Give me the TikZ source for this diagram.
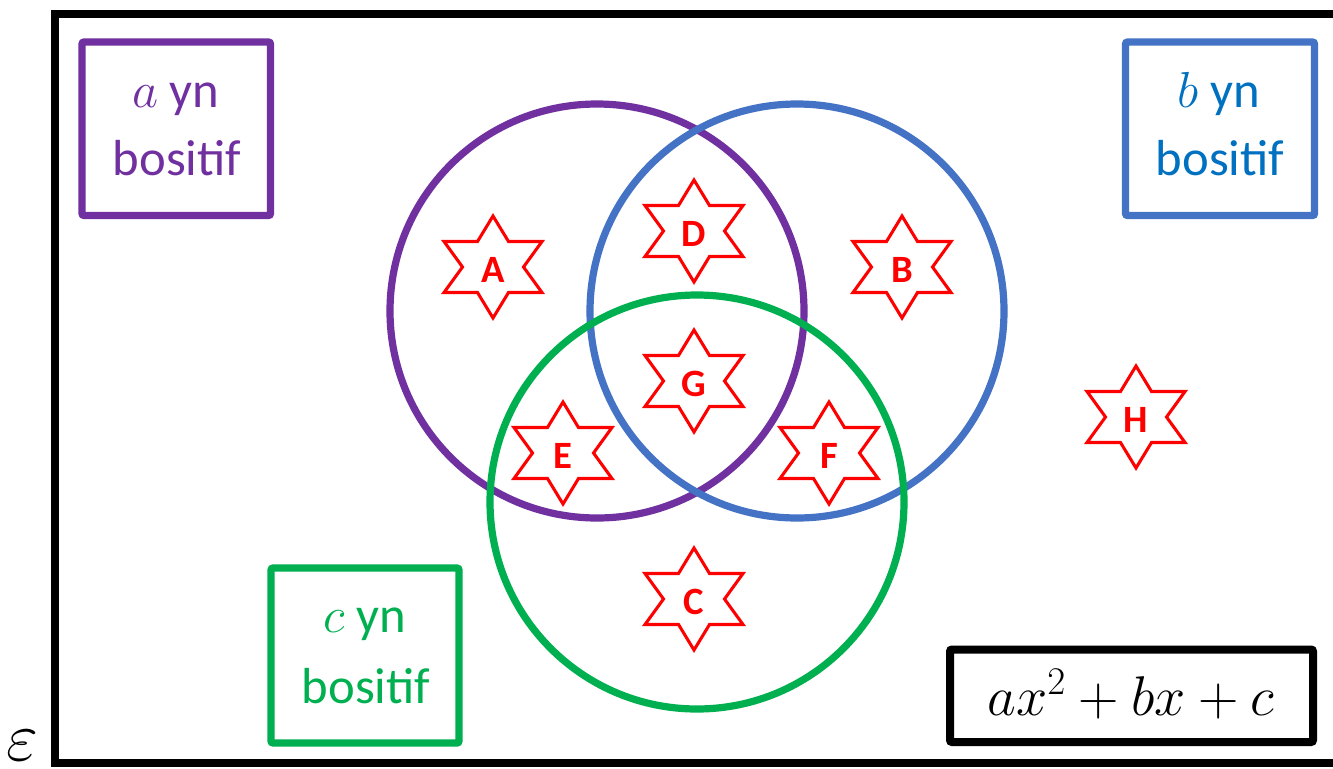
\RequirePackage{fix-cm}
\documentclass[tikz,border=0pt]{standalone}
\usepackage{fontspec}
\setmainfont{Carlito}
\definecolor{vpurple}{RGB}{112,48,160}
\definecolor{vblue}{RGB}{68,114,196}
\definecolor{vbluetxt}{RGB}{0,112,192}
\definecolor{vgreen}{RGB}{0,176,80}
\definecolor{vred}{RGB}{255,0,0}
\tikzset{
  frameline/.style={draw=black, line width=6pt},
  setcircle/.style={line width=5.4pt},
  labelbox/.style={line width=5.4pt, rounded corners=1.5pt},
  boxtext/.style={anchor=base, inner sep=0pt, font=\fontsize{38}{46}\selectfont},
  starline/.style={draw=vred, line width=2.3pt, line join=miter},
  starlbl/.style={inner sep=0pt, text=vred, font=\fontsize{29}{34}\selectfont\bfseries},
}
\newcommand\hexstar[4]{%
  \draw[starline, shift={(#2,#3)}] (0,-51) -- (15.5,-25.5) -- (49,-25.5) -- (30.5,0)
    -- (49,25.5) -- (15.5,25.5) -- (0,51) -- (-15.5,25.5) -- (-49,25.5) -- (-30.5,0)
    -- (-49,-25.5) -- (-15.5,-25.5) -- cycle;
  \node[starlbl] (#1) at (#2,#3+3) {#4};}
\begin{document}
\begin{tikzpicture}[x=0.75pt,y=-0.75pt]
\useasboundingbox (0,0) rectangle (1333,768);
% universal set frame
\draw[frameline] (55,14) rectangle (1350,763);
\node[inner sep=0pt, font=\fontsize{52}{60}\selectfont] (eps) at (22,746) {$\varepsilon$};
% circles
\draw[setcircle, vpurple] (597,311) circle (207);
\draw[setcircle, vblue] (797,311) circle (207);
\draw[setcircle, vgreen] (697,502) circle (207);
% stars
\hexstar{sA}{493}{267}{A}
\hexstar{sD}{694}{231}{D}
\hexstar{sB}{902}{267}{B}
\hexstar{sG}{694}{381}{G}
\hexstar{sE}{563}{453}{E}
\hexstar{sF}{829}{453}{F}
\hexstar{sC}{694}{599}{C}
\hexstar{sH}{1136}{417}{H}
% label boxes
\draw[labelbox, vpurple] (82,42) rectangle (270.5,215.5);
\node[boxtext, text=vpurple] (ta1) at (176,107) {$a$ yn};
\node[boxtext, text=vpurple] (ta2) at (177,175) {bositif};
\draw[labelbox, vblue] (1125.5,42) rectangle (1314.5,215.5);
\node[boxtext, text=vbluetxt] (tb1) at (1219,107) {$b$ yn};
\node[boxtext, text=vbluetxt] (tb2) at (1220,175) {bositif};
\draw[labelbox, vgreen] (271,568) rectangle (459,743);
\node[boxtext, text=vgreen] (tc1) at (365,632) {$c$ yn};
\node[boxtext, text=vgreen] (tc2) at (366,703) {bositif};
\draw[labelbox, black, line width=6pt] (950,649.5) rectangle (1313,742);
\node[anchor=base, inner sep=0pt, font=\fontsize{42}{50}\selectfont] (quad) at (1131,715) {$ax^2+bx+c$};
\end{tikzpicture}
\end{document}
